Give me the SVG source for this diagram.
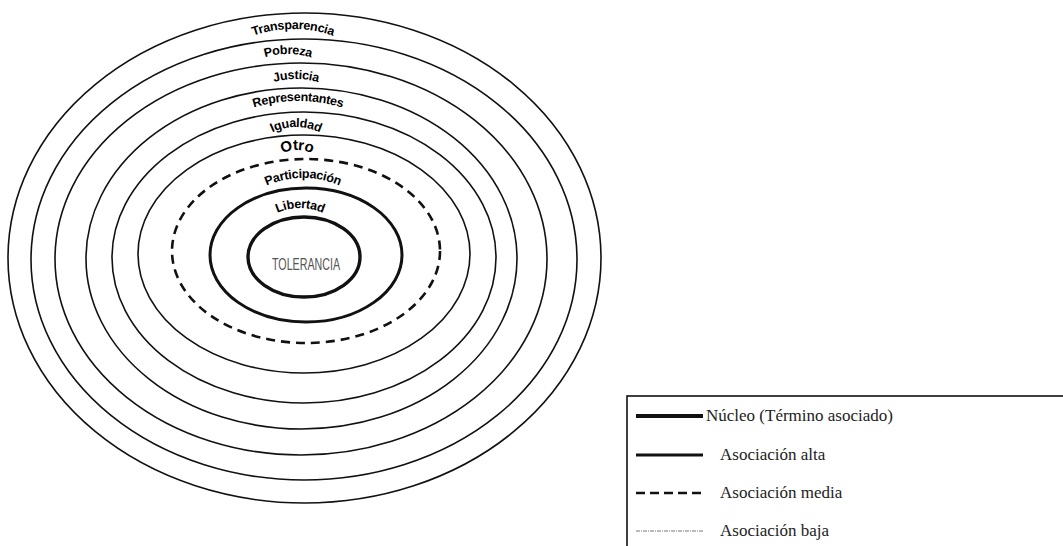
<svg xmlns="http://www.w3.org/2000/svg" xmlns:xlink="http://www.w3.org/1999/xlink" width="1063" height="546" viewBox="0 0 1063 546">
<style>
.ring{fill:none;stroke:#111;stroke-width:1.6}
.mid{fill:none;stroke:#111;stroke-width:2.6;stroke-dasharray:9 6}
.high{fill:none;stroke:#111;stroke-width:3}
.core{fill:none;stroke:#111;stroke-width:3.4}
.lbl{font-family:"Liberation Sans",Arial,sans-serif;font-weight:bold;font-size:12.5px;fill:#000;letter-spacing:-0.3px}
.leg{font-family:"Liberation Serif","Times New Roman",serif;font-size:17px;fill:#222}
</style>
<defs>
<path id="pTr" d="M223,51.5 A120,120 0 0 1 363,51.5"/>
<path id="pPo" d="M233,75.9 A80,80 0 0 1 343,75.9"/>
<path id="pJu" d="M241,100.9 A80,80 0 0 1 351,100.9"/>
<path id="pRe" d="M223,121.1 A150,150 0 0 1 373,121.1"/>
<path id="pIg" d="M246,159.1 A55,55 0 0 1 346,159.1"/>
<path id="pOt" d="M265,172.5 A34,34 0 0 1 329,172.5"/>
<path id="pPa" d="M238,205.7 A90,90 0 0 1 368,205.7"/>
<path id="pLi" d="M250,240.1 A55,55 0 0 1 350,240.1"/>
</defs>
<rect width="1063" height="546" fill="#fff"/>
<g id="connectors"/>
<g id="transparencia">
<ellipse class="ring" cx="304.5" cy="258" rx="296.5" ry="245"/>
<text class="lbl"><textPath xlink:href="#pTr" href="#pTr" startOffset="50%" text-anchor="middle">Transparencia</textPath></text>
</g>
<g id="pobreza">
<ellipse class="ring" cx="304" cy="259.5" rx="273" ry="220.5"/>
<text class="lbl"><textPath xlink:href="#pPo" href="#pPo" startOffset="50%" text-anchor="middle">Pobreza</textPath></text>
</g>
<g id="justicia">
<ellipse class="ring" cx="301" cy="259" rx="246" ry="196"/>
<text class="lbl"><textPath xlink:href="#pJu" href="#pJu" startOffset="50%" text-anchor="middle">Justicia</textPath></text>
</g>
<g id="representantes">
<ellipse class="ring" cx="301.5" cy="258.5" rx="215.5" ry="170.5"/>
<text class="lbl"><textPath xlink:href="#pRe" href="#pRe" startOffset="50%" text-anchor="middle">Representantes</textPath></text>
</g>
<g id="igualdad">
<ellipse class="ring" cx="304" cy="257.5" rx="192" ry="145.5"/>
<text class="lbl"><textPath xlink:href="#pIg" href="#pIg" startOffset="50%" text-anchor="middle">Igualdad</textPath></text>
</g>
<g id="otro">
<ellipse class="ring" cx="304" cy="254" rx="166" ry="119"/>
<text class="lbl" style="font-size:15px"><textPath xlink:href="#pOt" href="#pOt" startOffset="50%" text-anchor="middle">Otro</textPath></text>
</g>
<g id="participacion">
<ellipse class="mid" cx="306" cy="251" rx="134" ry="92"/>
<text class="lbl"><textPath xlink:href="#pPa" href="#pPa" startOffset="50%" text-anchor="middle">Participación</textPath></text>
</g>
<g id="libertad">
<ellipse class="high" cx="306" cy="255" rx="96" ry="67"/>
<text class="lbl"><textPath xlink:href="#pLi" href="#pLi" startOffset="50%" text-anchor="middle">Libertad</textPath></text>
</g>
<g id="tolerancia">
<ellipse class="core" cx="304" cy="257" rx="56" ry="40"/>
<text x="306" y="270" text-anchor="middle" textLength="68" lengthAdjust="spacingAndGlyphs" style="font-family:'Liberation Sans',Arial,sans-serif;font-size:17px;fill:#555">TOLERANCIA</text>
</g>
<g id="legend">
<rect x="627" y="396" width="500" height="200" fill="none" stroke="#111" stroke-width="1.6"/>
<line x1="636" y1="416" x2="703" y2="416" stroke="#111" stroke-width="4"/>
<text class="leg" x="706" y="421">Núcleo (Término asociado)</text>
<line x1="636" y1="455" x2="703" y2="455" stroke="#111" stroke-width="3"/>
<text class="leg" x="720" y="460">Asociación  alta</text>
<line x1="636" y1="493" x2="703" y2="493" stroke="#111" stroke-width="2.6" stroke-dasharray="9 5"/>
<text class="leg" x="720" y="498">Asociación media</text>
<line x1="636" y1="531" x2="703" y2="531" stroke="#777" stroke-width="1" stroke-dasharray="4 1 1 1"/>
<text class="leg" x="720" y="536">Asociación baja</text>
</g>
</svg>
